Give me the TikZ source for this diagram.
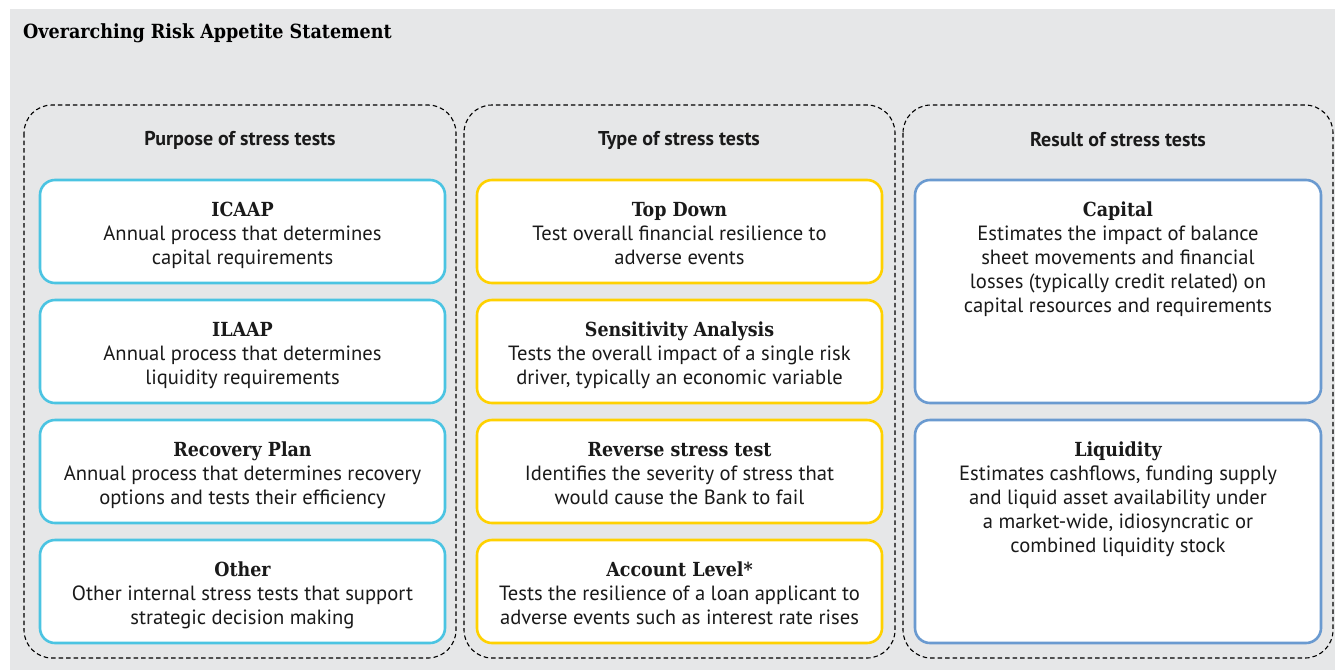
\documentclass[tikz,border=0pt]{standalone}
\usepackage{fontspec}
\setmainfont{PT Sans}
\newfontfamily\slabfont{DejaVu Serif Condensed}
\usetikzlibrary{positioning}

\definecolor{bggrey}{HTML}{E6E7E8}
\definecolor{purposecyan}{HTML}{4BC4E2}
\definecolor{typeyellow}{HTML}{FFD100}
\definecolor{resultblue}{HTML}{6A9AD0}
\definecolor{inktext}{HTML}{1A1A1A}

\tikzset{
    column/.style={draw=black, line width=1.1pt, dash pattern=on 4.5pt off 3pt, rounded corners=28pt},
    colhead/.style={font=\fontsize{20}{22}\selectfont\bfseries, text=inktext, inner sep=0pt},
    card/.style={draw, fill=white, line width=2.6pt, rounded corners=15pt, minimum width=405pt, inner sep=0pt},
    purposebox/.style={card, draw=purposecyan, minimum height=103pt},
    typebox/.style={card, draw=typeyellow, minimum height=103pt},
    resultbox/.style={card, draw=resultblue, minimum width=406pt, minimum height=223pt},
    cardtext/.style={anchor=north, align=center, inner sep=0pt, text=inktext, font=\fontsize{20.6}{24}\selectfont}
}
\newcommand{\cardtitle}[1]{{\slabfont\bfseries\fontsize{19.4}{24}\selectfont #1}}

\begin{document}
\begin{tikzpicture}[x=1pt,y=-1pt]
        % canvas
        \useasboundingbox (0,0) rectangle (1335,670);
        \fill[bggrey] (10,9) rectangle (1335,670);
        \node[anchor=west, inner sep=0pt, font=\slabfont\bfseries\fontsize{19.5}{22}\selectfont] (statement) at (23,33) {Overarching Risk Appetite Statement};

        % dashed columns
        \draw[column] (24,105) rectangle (456,658);
        \draw[column] (464,105) rectangle (895,658);
        \draw[column] (903,105) rectangle (1333,658);
        \node[colhead] (purposehead) at (240,140) {Purpose of stress tests};
        \node[colhead] (typehead) at (679,140) {Type of stress tests};
        \node[colhead] (resulthead) at (1118,140) {Result of stress tests};

        % purpose of stress tests
        \node[purposebox] (icaap) at (242.5,231.5) {};
        \node[cardtext] (icaaptext) at ([yshift=-23pt]icaap.north) {\cardtitle{ICAAP}\\Annual process that determines\\capital requirements};
        \node[purposebox] (ilaap) at (242.5,351.5) {};
        \node[cardtext] (ilaaptext) at ([yshift=-23pt]ilaap.north) {\cardtitle{ILAAP}\\Annual process that determines\\liquidity requirements};
        \node[purposebox] (recovery) at (242.5,471.5) {};
        \node[cardtext] (recoverytext) at ([yshift=-23pt]recovery.north) {\cardtitle{Recovery Plan}\\Annual process that determines recovery\\options and tests their efficiency};
        \node[purposebox] (other) at (242.5,591.5) {};
        \node[cardtext] (othertext) at ([yshift=-23pt]other.north) {\cardtitle{Other}\\Other internal stress tests that support\\strategic decision making};

        % type of stress tests
        \node[typebox] (topdown) at (679.5,231.5) {};
        \node[cardtext] (topdowntext) at ([yshift=-23pt]topdown.north) {\cardtitle{Top Down}\\Test overall financial resilience to\\adverse events};
        \node[typebox] (sensitivity) at (679.5,351.5) {};
        \node[cardtext] (sensitivitytext) at ([yshift=-23pt]sensitivity.north) {\cardtitle{Sensitivity Analysis}\\Tests the overall impact of a single risk\\driver, typically an economic variable};
        \node[typebox] (reverse) at (679.5,471.5) {};
        \node[cardtext] (reversetext) at ([yshift=-23pt]reverse.north) {\cardtitle{Reverse stress test}\\Identifies the severity of stress that\\would cause the Bank to fail};
        \node[typebox] (account) at (679.5,591.5) {};
        \node[cardtext] (accounttext) at ([yshift=-23pt]account.north) {\cardtitle{Account Level*}\\Tests the resilience of a loan applicant to\\adverse events such as interest rate rises};

        % result of stress tests
        \node[resultbox] (capital) at (1118,291.5) {};
        \node[cardtext] (capitaltext) at ([yshift=-23pt]capital.north) {\cardtitle{Capital}\\Estimates the impact of balance\\sheet movements and financial\\losses (typically credit related) on\\capital resources and requirements};
        \node[resultbox] (liquidity) at (1118,531.5) {};
        \node[cardtext] (liquiditytext) at ([yshift=-23pt]liquidity.north) {\cardtitle{Liquidity}\\Estimates cashflows, funding supply\\and liquid asset availability under\\a market-wide, idiosyncratic or\\combined liquidity stock};
\end{tikzpicture}
\end{document}
